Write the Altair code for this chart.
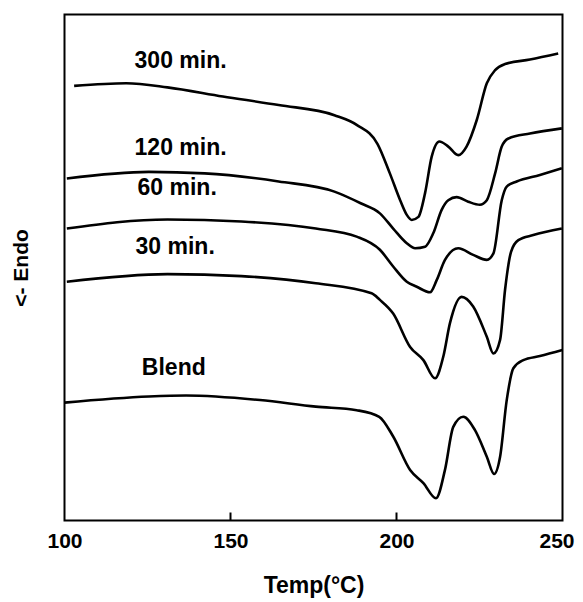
import altair as alt
import pandas as pd

series_names = ["300 min.", "120 min.", "60 min.", "30 min.", "Blend"]

temp_300 = [102.9, 118.6, 131.0, 147.7, 164.5, 181.3, 188.0, 194.3, 198.0, 201.1, 203.1, 204.6,
            206.6, 208.6, 210.6, 212.9, 215.6, 218.6, 221.1, 224.2, 227.2, 229.7, 232.7, 240.2, 248.7]
sig_300 = [85.9, 86.4, 85.6, 83.8, 82.1, 80.1, 78.2, 74.4, 68.6, 63.3, 60.4, 59.4,
           60.0, 64.7, 71.9, 74.9, 73.9, 72.2, 73.9, 79.2, 86.4, 89.0, 90.2, 91.1, 92.3]

temp_120 = [100.7, 125.4, 142.2, 164.5, 181.3, 189.2, 195.0, 199.0, 203.1, 205.6, 208.6, 211.1,
            213.6, 215.6, 218.1, 221.6, 225.1, 227.2, 229.7, 231.7, 233.7, 240.2, 249.8]
sig_120 = [67.6, 68.9, 68.6, 67.0, 65.0, 62.7, 60.7, 57.7, 54.8, 53.8, 54.1, 56.8,
           61.4, 63.3, 63.9, 63.0, 62.4, 63.3, 68.6, 73.9, 75.5, 76.5, 77.5]

temp_60 = [100.7, 131.0, 153.3, 175.7, 188.0, 195.0, 199.0, 203.1, 206.1, 210.1, 212.1, 214.6,
           218.6, 223.1, 227.2, 229.2, 231.7, 233.2, 236.2, 243.2, 249.8]
sig_60 = [57.7, 59.5, 59.1, 57.7, 56.1, 53.5, 50.2, 47.2, 46.2, 45.1, 47.5, 51.5,
          53.8, 52.5, 51.5, 52.8, 63.3, 66.0, 67.0, 68.3, 69.6]

temp_30 = [100.7, 131.0, 153.3, 175.7, 192.5, 195.0, 199.0, 204.1, 208.1, 211.6, 214.1, 216.1,
           219.6, 223.1, 227.2, 229.2, 231.2, 232.7, 234.5, 236.7, 241.2, 249.8]
sig_30 = [47.2, 48.7, 48.3, 46.9, 44.9, 43.6, 40.9, 34.3, 31.7, 28.1, 32.4, 39.0,
          44.2, 42.3, 36.3, 33.0, 35.7, 45.6, 53.1, 55.4, 56.4, 57.7]

temp_blend = [100.0, 125.4, 136.6, 158.9, 175.7, 188.0, 194.8, 199.0, 204.1, 208.1, 211.9, 214.6,
              217.1, 220.1, 223.6, 227.2, 229.4, 231.2, 233.2, 235.2, 238.2, 243.2, 250.0]
sig_blend = [23.3, 24.5, 24.7, 23.8, 22.5, 21.8, 20.5, 16.6, 10.0, 7.4, 4.4, 10.0,
             18.5, 20.5, 17.9, 12.6, 9.2, 12.6, 23.8, 30.1, 31.7, 32.5, 33.7]

label_temp = [121.1, 121.1, 122.0, 121.4, 123.3]
label_signal = [90.9, 73.6, 65.7, 54.1, 30.1]

x_tick_values = [100, 150, 200, 250]
inner_tick_temps = [150, 200]

rows = []
for name, ts, ss in zip(series_names,
                        [temp_300, temp_120, temp_60, temp_30, temp_blend],
                        [sig_300, sig_120, sig_60, sig_30, sig_blend]):
    for t, s in zip(ts, ss):
        rows.append({"series": name, "temp": t, "signal": s})
df = pd.DataFrame(rows)
lab_df = pd.DataFrame({"label": series_names, "temp": label_temp, "signal": label_signal})
tick_df = pd.DataFrame({"temp": inner_tick_temps})

FONT = "Liberation Sans"

x_enc = alt.X("temp:Q",
              scale=alt.Scale(domain=[100, 250], nice=False, zero=False),
              axis=alt.Axis(values=x_tick_values, title="Temp(°C)", ticks=False, domain=False,
                            grid=False, labelFont=FONT, labelFontSize=21, labelFontWeight="bold",
                            labelColor="black", labelPadding=10, labelFlush=False,
                            labelOverlap=False, labelBound=False,
                            labelOffset=alt.condition("datum.value == 250", alt.value(-6), alt.value(0)),
                            titleFont=FONT, titleFontSize=23,
                            titleFontWeight="bold", titleColor="black", titlePadding=23))
y_enc = alt.Y("signal:Q",
              scale=alt.Scale(domain=[0, 100], nice=False, zero=False),
              axis=alt.Axis(labels=False, ticks=False, domain=False, grid=False, title="<- Endo",
                            titleFont=FONT, titleFontSize=21, titleFontWeight="bold",
                            titleColor="black", titlePadding=33))

lines = alt.Chart(df).mark_line(color="black", strokeWidth=2.6, interpolate="monotone").encode(
    x=x_enc, y=y_enc, detail="series:N")

labels = alt.Chart(lab_df).mark_text(align="left", baseline="middle", fontSize=23,
                                     fontWeight="bold", font=FONT, color="black").encode(
    x="temp:Q", y="signal:Q", text="label:N")

ticks = alt.Chart(tick_df).mark_rule(color="black", strokeWidth=2).encode(
    x="temp:Q", y=alt.value(506), y2=alt.value(498))

chart = alt.layer(lines, labels, ticks).properties(
    width=498, height=506,
    padding={"left": 56.5, "top": 6.5, "right": 12.5, "bottom": 79},
    autosize=alt.AutoSizeParams(type="none"),
    background="white",
).configure_view(stroke="black", strokeWidth=2)

chart.save("out.html", embed_options={"renderer": "svg", "actions": False})
